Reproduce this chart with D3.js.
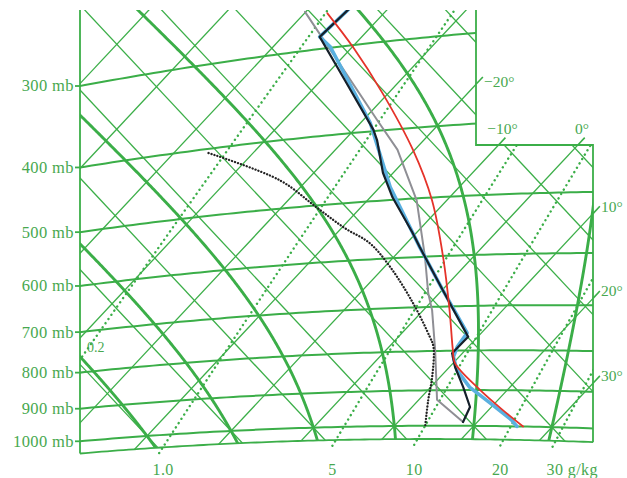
<!DOCTYPE html>
<html><head><meta charset="utf-8">
<script src="https://cdn.jsdelivr.net/npm/d3@7"></script>
<style>body{margin:0;background:#fff}svg{display:block}</style>
</head><body>
<svg id="c" width="627" height="478"></svg>
<script>
// ---------------- data ----------------
const isobarLevels = [1000, 900, 800, 700, 600, 500, 400, 300];
const isobarLabels = ["1000 mb", "900 mb", "800 mb", "700 mb", "600 mb", "500 mb", "400 mb", "300 mb"];
const isothermValues = [-90, -80, -70, -60, -50, -40, -30, -20, -10, 0, 10, 20, 30, 40, 50];
const dryAdiabatValues = [-60, -50, -40, -30, -20, -10, 0, 10, 20, 30, 40, 50, 60, 70, 80, 90, 100, 110]; // theta in °C
const moistAdiabatValues = [-20, -10, 0, 10, 20, 30, 40]; // theta-w in °C
const mixingRatios = [0.2, 1, 5, 10, 20, 30];
const mixingLabels = ["0.2", "1.0", "5", "10", "20", "30 g/kg"];
const tempLabelValues = [-20, -10, 0, 10, 20, 30];
const tempLabels = ["\u221220\u00b0", "\u221210\u00b0", "0\u00b0", "10\u00b0", "20\u00b0", "30\u00b0"];

// soundings (pressure hPa, temperature °C)
const parcelP = [1000, 954, 900, 830, 798, 708, 607, 504, 429, 355, 302, 267];
const parcelT = [26.3, 21.8, 16.6, 10.2, 8.4, 3.3, -3.4, -11.9, -20.2, -30.7, -39.9, -47.1];
const blueP = [1000, 982, 935, 892, 848, 815, 791, 759, 666, 582, 480, 389, 299, 288, 266];
const blueT = [25.5, 24.1, 19.4, 14.9, 11.3, 9.3, 8.6, 8.2, 0.1, -7.9, -18.7, -28.8, -42.8, -45.3, -44.9];
const blackP = [989, 946, 892, 840, 806, 768, 666, 582, 557, 496, 458, 412, 398, 336, 288, 266];
const blackT = [18.2, 17.3, 14.1, 10.7, 8.7, 8.8, 0.1, -7.9, -10.4, -17.2, -21.3, -25.9, -27.6, -37.0, -45.3, -44.9];
const grayP = [989, 926, 798, 707, 671, 600, 503, 427, 386, 263];
const grayT = [18.2, 12.3, 6.2, 1.1, -1.4, -6.1, -13.8, -22.2, -28.3, -50.1];
const dewP = [998, 926, 865, 790, 767, 690, 616, 570, 541, 503, 456, 405];
const dewT = [13.8, 11.2, 9.0, 5.6, 4.0, -2.2, -9.3, -14.7, -19.6, -25.6, -33.4, -45.8];

// ---------------- tephigram projection ----------------
const s = 3.966, q = 1146, k = 1.069, kappa = 0.276;
const X0 = 147, Y0 = 436;
const LA = Math.log(253.15);
const uScale = d3.scaleLinear().domain([-20, 30]).range([0, 50 * s]);
const vScale = d3.scaleLinear().domain([LA, LA + 1]).range([0, q]);
function projTL(T, L) {
  const u = uScale(T), v = vScale(L);
  return [X0 + u + v, Y0 + k * (u - v)];
}
function Lof(T, p) { return Math.log(T + 273.15) + kappa * Math.log(1000 / p); }
function proj(T, p) { return projTL(T, Lof(T, p)); }
function tAtX(p, X) {
  let lo = -160, hi = 120;
  for (let i = 0; i < 60; i++) { const m = (lo + hi) / 2; if (proj(m, p)[0] < X) lo = m; else hi = m; }
  return (lo + hi) / 2;
}

const green = "#3bae48";
const svg = d3.select("#c");
const defs = svg.append("defs");
const line = d3.line();

// plot boundary
const leftX = 80, topY = 10, rightA = 476, stepY = 145, rightB = 593, pBottom = 1040;
const tBL = tAtX(pBottom, leftX), tBR = tAtX(pBottom, rightB);
const bottomPts = d3.range(0, 101).map(i => proj(tBL + (tBR - tBL) * i / 100, pBottom));
const clipPoly = [[leftX, topY], [rightA, topY], [rightA, stepY], [rightB, stepY]].concat(bottomPts.slice().reverse());
defs.append("clipPath").attr("id", "plot").append("path").attr("d", line(clipPoly) + "Z");
defs.append("clipPath").attr("id", "plot2").append("path")
  .attr("d", line([[leftX, topY], [rightA, topY], [rightA, stepY], [rightB, stepY], [rightB, 478], [leftX, 478]]) + "Z");

const grid = svg.append("g").attr("clip-path", "url(#plot)").attr("fill", "none").attr("stroke", green);

// isotherms
const Lmin = Math.log(150), Lmax = Math.log(700);
isothermValues.forEach(T => {
  grid.append("path").attr("d", line([projTL(T, Lmin), projTL(T, Lmax)])).attr("stroke-width", 1.3);
});
// dry adiabats
dryAdiabatValues.forEach(th => {
  const L = Math.log(th + 273.15);
  grid.append("path").attr("d", line([projTL(-150, L), projTL(120, L)])).attr("stroke-width", 1.3);
});
// isobars
isobarLevels.forEach(p => {
  const t0 = tAtX(p, leftX - 2), t1 = tAtX(p, rightB + 2);
  const pp = d3.range(0, 81).map(i => proj(t0 + (t1 - t0) * i / 80, p));
  grid.append("path").attr("d", line(pp)).attr("stroke-width", 2);
});
// saturated adiabats (pseudo-adiabatic integration)
function dTdp(T, p) {
  const Tc = T - 273.15;
  const es = 6.112 * Math.exp(17.67 * Tc / (Tc + 243.5));
  const rs = 0.622 * es / (p - es);
  const Rd = 287.04, cp = 1005.7, Lv = 2.501e6;
  return (Rd * T + Lv * rs) / (p * (cp + Lv * Lv * rs * 0.622 / (Rd * T * T)));
}
function moist(thw, pEnd) {
  let T = thw + 273.15, p = 1000; const out = [[p, T]];
  const dp = pEnd < 1000 ? -2 : 2;
  while ((dp < 0 && p > pEnd) || (dp > 0 && p < pEnd)) {
    const k1 = dTdp(T, p), k2 = dTdp(T + k1 * dp / 2, p + dp / 2), k3 = dTdp(T + k2 * dp / 2, p + dp / 2), k4 = dTdp(T + k3 * dp, p + dp);
    T += dp * (k1 + 2 * k2 + 2 * k3 + k4) / 6; p += dp; out.push([p, T]);
  }
  return out;
}
moistAdiabatValues.forEach(thw => {
  const up = moist(thw, 200), down = moist(thw, 1060);
  const all = down.reverse().concat(up.slice(1));
  grid.append("path").attr("d", d3.line().curve(d3.curveBasis)(all.map(d => proj(d[1] - 273.15, d[0]))))
    .attr("stroke-width", 2.9);
});

// mixing ratio lines
const mixG = svg.append("g").attr("clip-path", "url(#plot2)").attr("fill", "none").attr("stroke", green);
function mixT(w, p) {
  const e = w * p / (622 + w); const a = Math.log(e / 6.112);
  return 243.5 * a / (17.67 - a);
}
const pMixBottom = 1058;
mixingRatios.forEach(w => {
  const pp = d3.range(pMixBottom, 199, -4).map(p => proj(mixT(w, p), p));
  mixG.append("path").attr("d", line(pp)).attr("stroke-width", 2.4)
    .attr("stroke-dasharray", "0.1,5").attr("stroke-linecap", "round");
});

// borders
const border = svg.append("g").attr("fill", "none").attr("stroke", green).attr("stroke-width", 1.8);
border.append("path").attr("d", line([[leftX, topY], bottomPts[0]]));
border.append("path").attr("d", line([[rightA, topY], [rightA, stepY], [rightB, stepY], bottomPts[100]]));
border.append("path").attr("d", line(bottomPts));

// isobar labels + ticks
const labG = svg.append("g").attr("fill", "#47a84f").attr("font-family", "'Liberation Serif', 'DejaVu Serif', serif");
isobarLevels.forEach((p, i) => {
  const y = proj(tAtX(p, leftX), p)[1];
  border.append("path").attr("d", line([[leftX - 5, y], [leftX, y]]));
  labG.append("text").attr("x", leftX - 6).attr("y", y + 5.5).attr("text-anchor", "end")
    .attr("font-size", 16.5).attr("letter-spacing", 0.4).text(isobarLabels[i]);
});

// temperature labels on the right boundary
function inside(pt) { return pt[1] >= stepY ? pt[0] <= rightB : pt[0] <= rightA; }
tempLabelValues.forEach((T, i) => {
  let lo = Math.log(T + 273.15), hi = Lmax;
  for (let j = 0; j < 60; j++) { const m = (lo + hi) / 2; if (inside(projTL(T, m))) lo = m; else hi = m; }
  const e = projTL(T, lo), e2 = projTL(T, lo + 0.006);
  border.append("path").attr("d", line([e, e2])).attr("stroke-width", 1.6);
  let x, y, anchor;
  if (Math.abs(e[1] - stepY) < 1.5 && e[0] > rightA + 1 && e[0] < rightB - 1) { x = e[0] + 4; y = e[1] - 11; anchor = "middle"; }
  else if (e[0] > rightB - 2) { x = e[0] + 8; y = e[1] - 2; anchor = "start"; }
  else { x = e[0] + 8; y = e[1] + 3; anchor = "start"; }
  labG.append("text").attr("x", x).attr("y", y).attr("text-anchor", anchor)
    .attr("font-size", 15.5).text(tempLabels[i]);
});

// mixing ratio labels
mixingRatios.forEach((w, i) => {
  if (i === 0) {
    let lo = 300, hi = 1000;
    for (let j = 0; j < 60; j++) { const m = (lo + hi) / 2; if (proj(mixT(w, m), m)[0] > leftX) lo = m; else hi = m; }
    const e = proj(mixT(w, lo), lo);
    labG.append("text").attr("x", e[0] + 7).attr("y", e[1] - 8).attr("font-size", 14).text(mixingLabels[i]);
    return;
  }
  const b = proj(mixT(w, pMixBottom), pMixBottom);
  const last = i === mixingRatios.length - 1;
  labG.append("text").attr("x", last ? b[0] - 6 : b[0] + (i === 1 ? 4 : 0)).attr("y", 475)
    .attr("text-anchor", last ? "start" : "middle").attr("font-size", 16).attr("letter-spacing", 0.4)
    .text(mixingLabels[i]);
});

// ---------------- soundings ----------------
const snd = svg.append("g").attr("clip-path", "url(#plot)").attr("fill", "none")
  .attr("stroke-linejoin", "round").attr("stroke-linecap", "round");
function pts(P, T) { return P.map((p, i) => proj(T[i], p)); }
snd.append("path").attr("d", line(pts(grayP, grayT))).attr("stroke", "#8f8f95").attr("stroke-width", 2);
snd.append("path").attr("d", line(pts(blueP, blueT))).attr("stroke", "#5ab0e0").attr("stroke-width", 3.6);
snd.append("path").attr("d", line(pts(blackP, blackT))).attr("stroke", "#15202a").attr("stroke-width", 2.2);
snd.append("path").attr("d", d3.line().curve(d3.curveCatmullRom.alpha(0.5))(pts(parcelP, parcelT)))
  .attr("stroke", "#e5332a").attr("stroke-width", 1.8);
snd.append("path").attr("d", d3.line().curve(d3.curveCatmullRom.alpha(0.5))(pts(dewP, dewT)))
  .attr("stroke", "#222").attr("stroke-width", 2.3).attr("stroke-dasharray", "0.1,3").attr("stroke-linecap", "round");
</script>
</body></html>
